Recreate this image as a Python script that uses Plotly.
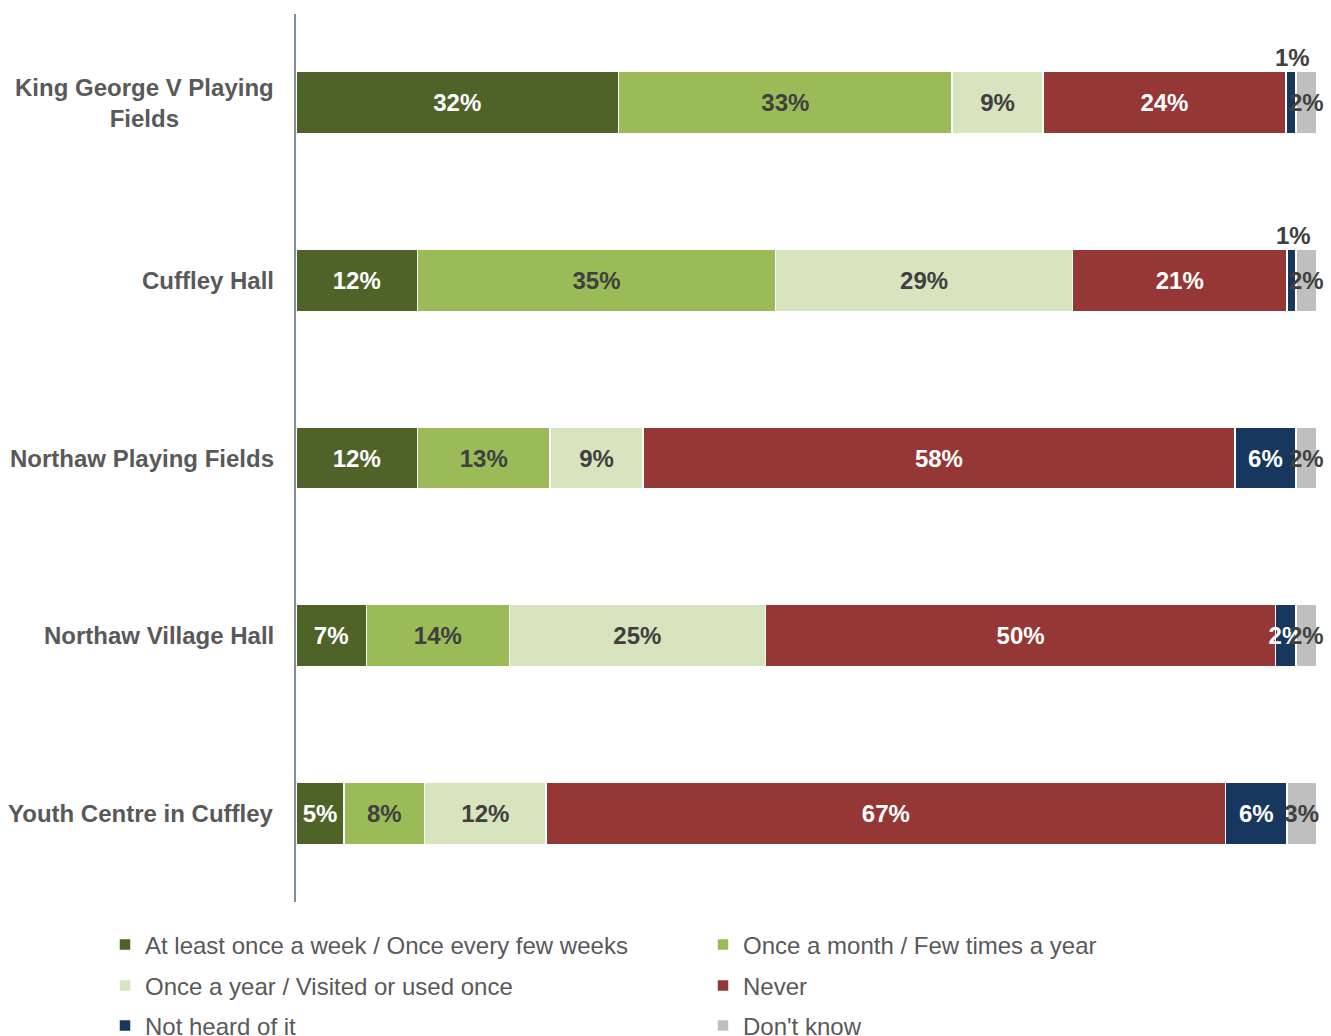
import plotly.graph_objects as go

categories = ["King George V Playing<br>Fields", "Cuffley Hall", "Northaw Playing Fields",
              "Northaw Village Hall", "Youth Centre in Cuffley"]
series_names = ["At least once a week / Once every few weeks", "Once a month / Few times a year",
                "Once a year / Visited or used once", "Never", "Not heard of it", "Don't know"]
weekly = [31.6, 11.9, 11.9, 6.9, 4.7]
monthly = [32.7, 35.1, 13.0, 14.0, 7.9]
yearly = [8.9, 29.1, 9.1, 25.1, 11.9]
never = [23.8, 21.0, 58.0, 50.0, 66.6]
not_heard = [1.0, 0.9, 6.0, 2.0, 6.0]
dont_know = [2.0, 2.0, 2.0, 2.0, 2.9]

series_values = [weekly, monthly, yearly, never, not_heard, dont_know]
colors = ["#4f6228", "#9bbb59", "#d7e4bd", "#953735", "#17375e", "#bfbfbf"]
text_colors = ["white", "#404040", "#404040", "white", "white", "#404040"]
legend_ids = ["legend", "legend", "legend2", "legend2", "legend3", "legend3"]

FONT = "Liberation Sans, Arial, sans-serif"
SMALL = 1.5  # segments this small get their label above the bar

fig = go.Figure()
for name, vals, col, tcol, lg in zip(series_names, series_values, colors, text_colors, legend_ids):
    texts = [("" if v < SMALL else f"{round(v)}%") for v in vals]
    fig.add_trace(go.Bar(
        name=name, y=categories, x=vals, orientation="h",
        marker=dict(color=col, line=dict(color="white", width=1.5)),
        text=texts, textposition="inside", insidetextanchor="middle",
        textangle=0, constraintext="none", cliponaxis=False,
        textfont=dict(family=FONT, size=24, color=tcol, weight="bold"),
        legend=lg, hoverinfo="skip",
    ))

annotations = []
# labels for tiny segments, placed above the bar
for i, cat in enumerate(categories):
    start = 0
    for vals in series_values:
        v = vals[i]
        if v < SMALL:
            annotations.append(dict(
                x=start + v / 2, y=cat, xref="x", yref="y", text=f"{round(v)}%",
                showarrow=False, yshift=45, xshift=2,
                font=dict(family=FONT, size=24, color="#404040", weight="bold")))
        start += v

# category labels (centre-aligned multi-line)
for cat in categories:
    annotations.append(dict(
        x=0, y=cat, xref="paper", yref="y", text=f"<b>{cat}</b>", showarrow=False,
        xanchor="right", yanchor="middle", align="center", xshift=-20,
        font=dict(family=FONT, size=24, color="#595959")))

H = 888.0
def py(p):
    return (902 - p) / H

W = 1021.0
def px(p):
    return (p - 296) / W

legend_common = dict(orientation="h", entrywidth=553, entrywidthmode="pixels",
                     font=dict(family=FONT, size=24, color="#595959"),
                     bgcolor="rgba(0,0,0,0)", xanchor="left", yanchor="middle",
                     traceorder="normal")

fig.update_layout(
    barmode="stack",
    bargap=0.65,
    width=1331, height=1036,
    margin=dict(l=296, r=14, t=14, b=134, autoexpand=False),
    paper_bgcolor="white", plot_bgcolor="white",
    font=dict(family=FONT),
    xaxis=dict(range=[0, 100.05], showticklabels=False, showgrid=False, zeroline=False,
               showline=False, fixedrange=True),
    yaxis=dict(categoryorder="array", categoryarray=categories, autorange="reversed",
               showline=True, linecolor="#7f8c9d", linewidth=1.5, showgrid=False,
               ticks="", showticklabels=False),
    legend=dict(x=px(105), y=py(945), **legend_common),
    legend2=dict(x=px(105), y=py(986), **legend_common),
    legend3=dict(x=px(105), y=py(1026), **legend_common),
    annotations=annotations,
    showlegend=True,
)

fig.write_html("out.html")
